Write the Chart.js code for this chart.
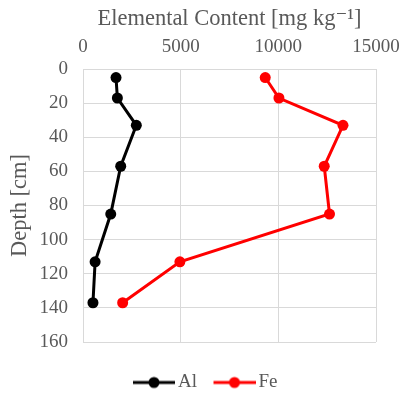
<!DOCTYPE html>
<html>
<head>
<meta charset="utf-8">
<script src="https://cdn.jsdelivr.net/npm/chart.js@4"></script>
<style>
  html, body { margin: 0; padding: 0; background: #ffffff; }
  canvas { display: block; }
</style>
</head>
<body>
<canvas id="chart" width="401" height="396"></canvas>
<script>
// Soil profile: depth (cm) and elemental content (mg/kg)
const depth = [5, 17, 33, 57, 85, 113, 137];
const alContent = [1690, 1760, 2730, 1930, 1420, 620, 510];
const feContent = [9330, 10030, 13310, 12350, 12620, 4960, 2030];
const seriesNames = ['Al', 'Fe'];
const seriesColors = ['#000000', '#ff0000'];
const xTickValues = [0, 5000, 10000, 15000];
const yTickValues = [0, 20, 40, 60, 80, 100, 120, 140, 160];

const FONT = '"Liberation Serif", "DejaVu Serif", serif';
const TEXT = '#595959';
const GRID = '#d9d9d9';

function toPoints(values) {
  return values.map((v, i) => ({ x: v, y: depth[i] }));
}

// Legend marker: a short line with a dot in the middle, shifted right inside its image
function legendMarker(color) {
  const lineW = 42, shift = 13;
  const c = document.createElement('canvas');
  c.width = lineW + shift;
  c.height = 14;
  const g = c.getContext('2d');
  g.strokeStyle = color;
  g.lineWidth = 3;
  g.beginPath();
  g.moveTo(shift, 7);
  g.lineTo(shift + lineW, 7);
  g.stroke();
  g.fillStyle = color;
  g.beginPath();
  g.arc(shift + lineW / 2, 7, 5.5, 0, Math.PI * 2);
  g.fill();
  return c;
}

const seriesValues = [alContent, feContent];

const datasets = seriesNames.map((name, i) => ({
  label: name,
  data: toPoints(seriesValues[i]),
  showLine: true,
  borderColor: seriesColors[i],
  backgroundColor: seriesColors[i],
  borderWidth: 3,
  pointRadius: 5.5,
  pointHoverRadius: 5.5,
  pointBorderWidth: 0,
  tension: 0
}));

// Moves the legend row down and slightly right below the plot
const legendShift = {
  id: 'legendShift',
  afterLayout(chart) {
    const lg = chart.legend;
    if (!lg) return;
    lg.top += 21;
    lg.bottom += 21;
    lg.left += 12;
    lg.right += 12;
  }
};

new Chart(document.getElementById('chart'), {
  type: 'scatter',
  data: { datasets },
  plugins: [legendShift],
  options: {
    responsive: false,
    animation: false,
    devicePixelRatio: 1,
    layout: { padding: { top: 2, left: 4, right: 25, bottom: 15 } },
    scales: {
      x: {
        type: 'linear',
        position: 'top',
        min: 0,
        max: 15000,
        afterBuildTicks(scale) { scale.ticks = xTickValues.map(v => ({ value: v })); },
        afterFit(scale) {
          scale.height = 67;
          scale.paddingLeft = 0;
          scale.paddingRight = 0;
        },
        grid: { color: GRID, lineWidth: 1, drawTicks: false },
        border: { color: GRID },
        ticks: {
          padding: 11,
          color: TEXT,
          font: { family: FONT, size: 19 },
          callback: v => String(v)
        },
        title: {
          display: true,
          text: 'Elemental Content [mg kg\u207B\u00B9]',
          color: TEXT,
          font: { family: FONT, size: 22.5 },
          padding: { top: 4, bottom: 0 }
        }
      },
      y: {
        type: 'linear',
        reverse: true,
        min: 0,
        max: 160,
        afterBuildTicks(scale) { scale.ticks = yTickValues.map(v => ({ value: v })); },
        afterFit(scale) {
          scale.width = 79;
          scale.paddingTop = 0;
          scale.paddingBottom = 0;
        },
        grid: { color: GRID, lineWidth: 1, drawTicks: false },
        border: { color: GRID },
        ticks: {
          padding: 15,
          color: TEXT,
          font: { family: FONT, size: 19 },
          callback: v => String(v)
        },
        title: {
          display: true,
          text: 'Depth [cm]',
          color: TEXT,
          font: { family: FONT, size: 22.5 },
          padding: { top: 3, bottom: 0 }
        }
      }
    },
    plugins: {
      tooltip: { enabled: false },
      legend: {
        position: 'bottom',
        labels: {
          usePointStyle: true,
          pointStyleWidth: 42,
          padding: 10,
          color: TEXT,
          font: { family: FONT, size: 19 },
          generateLabels(chart) {
            return chart.data.datasets.map((ds, i) => ({
              text: ds.label,
              fillStyle: ds.borderColor,
              strokeStyle: ds.borderColor,
              lineWidth: 0,
              pointStyle: legendMarker(ds.borderColor),
              hidden: false,
              datasetIndex: i,
              fontColor: TEXT
            }));
          }
        }
      }
    }
  }
});
</script>
</body>
</html>
